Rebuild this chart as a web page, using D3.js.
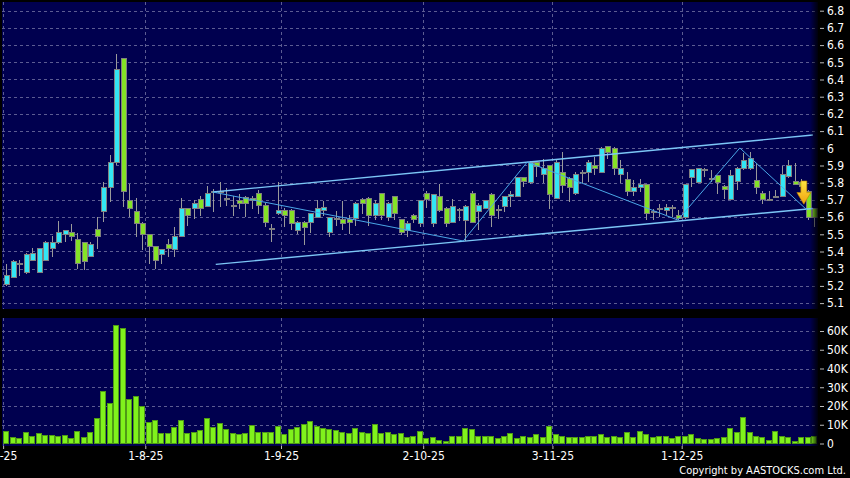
<!DOCTYPE html>
<meta charset="utf-8">
<style>
body {
    margin: 0;
    background: #000;
}
svg {
    display: block;
}
text {
    fill: #fff;
    font-family: 'DejaVu Sans Condensed', 'DejaVu Sans', sans-serif;
    font-size: 11px;
}
.grid {
    stroke: #5c5c92;
    stroke-width: 1px;
    stroke-dasharray: 3,3;
    shape-rendering: crispEdges;
}
.wick {
    stroke: #9a9a9a;
    stroke-width: 1px;
    shape-rendering: crispEdges;
}
.body {
    stroke: #808080;
    stroke-width: 1px;
    shape-rendering: crispEdges;
}
.vol {
    fill: #80f21c;
    stroke: #4f9a16;
    stroke-width: 1px;
    shape-rendering: crispEdges;
}
.channel {
    fill: none;
    stroke: #7cc6f6;
    stroke-width: 1.4px;
}
.zigzag {
    fill: none;
    stroke: #4aa6e6;
    stroke-width: 1px;
}
.axis path {
    display: none;
}
.axis line {
    stroke: #bbb;
}
</style>
<svg width="850" height="478"></svg>

<script src="https://unpkg.com/d3@7/dist/d3.min.js"></script>
<script>
// daily candles, 2-7-25 .. 31-12-25
const open = [
    5.21, 5.25, 5.33, 5.28, 5.35, 5.28, 5.35, 5.42, 5.455, 5.50,
    5.51, 5.47, 5.45, 5.37, 5.53, 5.635, 5.775, 5.915, 6.52, 5.695,
    5.635, 5.56, 5.50, 5.43, 5.385, 5.44, 5.41, 5.49, 5.65, 5.65,
    5.70, 5.66, 5.745, 5.745, 5.71, 5.67, 5.695, 5.715, 5.71, 5.74,
    5.67, 5.535, 5.62, 5.64, 5.64, 5.525, 5.57, 5.57, 5.60, 5.64,
    5.51, 5.59, 5.585, 5.585, 5.59, 5.705, 5.71, 5.61, 5.735, 5.60,
    5.72, 5.585, 5.52, 5.61, 5.56, 5.74, 5.56, 5.72, 5.65, 5.57,
    5.645, 5.58, 5.74, 5.635, 5.65, 5.73, 5.645, 5.66, 5.72, 5.72,
    5.83, 5.80, 5.915, 5.845, 5.90, 5.71, 5.86, 5.825, 5.735, 5.855,
    5.86, 5.90, 5.86, 6.01, 6.00, 5.85, 5.82, 5.75, 5.775, 5.79,
    5.635, 5.65, 5.64, 5.655, 5.61, 5.60, 5.83, 5.80, 5.875, 5.825,
    5.84, 5.78, 5.705, 5.805, 5.88, 5.88, 5.81, 5.74, 5.705, 5.72,
    5.72, 5.835, 5.805, 5.80, 5.75, 5.65
];
const high = [
    5.33, 5.35, 5.35, 5.39, 5.42, 5.42, 5.46, 5.49, 5.58, 5.525,
    5.56, 5.51, 5.455, 5.455, 5.60, 5.805, 5.96, 6.55, 6.52, 5.79,
    5.71, 5.57, 5.50, 5.43, 5.415, 5.47, 5.545, 5.71, 5.655, 5.70,
    5.72, 5.78, 5.765, 5.805, 5.77, 5.72, 5.735, 5.72, 5.72, 5.76,
    5.68, 5.56, 5.805, 5.655, 5.65, 5.575, 5.58, 5.625, 5.70, 5.695,
    5.60, 5.635, 5.695, 5.61, 5.685, 5.71, 5.715, 5.70, 5.74, 5.69,
    5.725, 5.59, 5.575, 5.62, 5.70, 5.75, 5.735, 5.79, 5.66, 5.705,
    5.655, 5.67, 5.75, 5.68, 5.70, 5.74, 5.67, 5.725, 5.75, 5.835,
    5.835, 5.925, 5.92, 5.94, 5.905, 5.93, 5.98, 5.835, 5.865, 5.875,
    5.93, 5.95, 6.005, 6.015, 6.005, 5.93, 5.865, 5.815, 5.82, 5.795,
    5.645, 5.675, 5.675, 5.67, 5.64, 5.795, 5.88, 5.885, 5.885, 5.875,
    5.845, 5.785, 5.875, 5.89, 5.97, 5.98, 5.915, 5.75, 5.75, 5.76,
    5.895, 5.93, 5.915, 5.82, 5.76, 5.655
];
const low = [
    5.20, 5.245, 5.26, 5.27, 5.345, 5.275, 5.345, 5.37, 5.445, 5.455,
    5.46, 5.30, 5.29, 5.37, 5.415, 5.57, 5.69, 5.905, 5.66, 5.60,
    5.485, 5.41, 5.33, 5.30, 5.33, 5.37, 5.37, 5.49, 5.55, 5.59,
    5.605, 5.66, 5.63, 5.66, 5.665, 5.605, 5.645, 5.60, 5.645, 5.62,
    5.54, 5.455, 5.61, 5.545, 5.525, 5.50, 5.44, 5.51, 5.60, 5.605,
    5.485, 5.55, 5.525, 5.50, 5.55, 5.62, 5.55, 5.585, 5.585, 5.575,
    5.585, 5.495, 5.485, 5.565, 5.545, 5.655, 5.545, 5.63, 5.545, 5.565,
    5.58, 5.46, 5.565, 5.525, 5.645, 5.54, 5.59, 5.63, 5.66, 5.715,
    5.775, 5.795, 5.835, 5.80, 5.65, 5.705, 5.74, 5.69, 5.73, 5.80,
    5.805, 5.845, 5.855, 5.935, 5.845, 5.80, 5.72, 5.72, 5.745, 5.585,
    5.585, 5.60, 5.615, 5.60, 5.585, 5.59, 5.775, 5.80, 5.835, 5.805,
    5.735, 5.705, 5.705, 5.76, 5.875, 5.875, 5.735, 5.675, 5.70, 5.715,
    5.72, 5.83, 5.79, 5.765, 5.585, 5.54
];
const close = [
    5.26, 5.34, 5.33, 5.385, 5.39, 5.415, 5.455, 5.455, 5.51, 5.52,
    5.485, 5.33, 5.34, 5.44, 5.485, 5.775, 5.915, 6.46, 5.75, 5.65,
    5.56, 5.50, 5.43, 5.35, 5.41, 5.415, 5.49, 5.65, 5.61, 5.68,
    5.65, 5.74, 5.75, 5.75, 5.71, 5.67, 5.68, 5.68, 5.695, 5.665,
    5.57, 5.535, 5.64, 5.61, 5.56, 5.57, 5.54, 5.62, 5.65, 5.655,
    5.60, 5.59, 5.56, 5.57, 5.68, 5.68, 5.61, 5.68, 5.61, 5.68,
    5.62, 5.51, 5.56, 5.585, 5.695, 5.70, 5.73, 5.64, 5.56, 5.66,
    5.645, 5.66, 5.57, 5.67, 5.695, 5.61, 5.645, 5.72, 5.73, 5.83,
    5.805, 5.915, 5.895, 5.885, 5.73, 5.915, 5.785, 5.775, 5.85, 5.86,
    5.915, 5.88, 6.00, 5.975, 5.88, 5.88, 5.75, 5.775, 5.79, 5.62,
    5.63, 5.65, 5.655, 5.655, 5.59, 5.79, 5.875, 5.88, 5.875, 5.825,
    5.80, 5.76, 5.84, 5.88, 5.93, 5.94, 5.77, 5.705, 5.705, 5.72,
    5.845, 5.90, 5.79, 5.78, 5.595, 5.60
];
// volume in shares
const volume = [
    6500, 3100, 2600, 6000, 3800, 5100, 4200, 4200, 3500, 4400,
    2900, 6500, 3100, 6100, 13200, 27600, 21600, 63200, 61200, 23700,
    25300, 19800, 11300, 12400, 5600, 5600, 8400, 12400, 5400, 5800,
    7000, 13600, 8800, 10800, 7300, 5100, 4600, 5100, 9500, 5800,
    6000, 6000, 9300, 4600, 7500, 8600, 9900, 12000, 9300, 7800,
    7300, 6700, 6000, 5300, 7800, 6100, 5100, 10000, 5100, 6100,
    4600, 5400, 3100, 4000, 6500, 2500, 3000, 1500, 1200, 3500,
    4000, 8000, 7500, 4000, 4000, 4000, 2500, 3500, 5500, 2500,
    4000, 3000, 5000, 3000, 9000, 5000, 3500, 3000, 3000, 3000,
    4000, 3500, 5000, 3000, 4000, 3000, 6000, 3000, 6500, 5000,
    3000, 4000, 3500, 2500, 3500, 3500, 5000, 2500, 2000, 2000,
    2500, 3000, 8000, 6000, 14000, 6000, 4000, 3000, 1500, 6500,
    4000, 3000, 1000, 3000, 3000, 3500
];

const tickIdx = [0, 22, 43, 65, 85, 105];
const tickLabels = ['2-7-25', '1-8-25', '1-9-25', '2-10-25', '3-11-25', '1-12-25'];
const priceTicks = [5.1, 5.2, 5.3, 5.4, 5.5, 5.6, 5.7, 5.8, 5.9, 6.0, 6.1, 6.2, 6.3, 6.4, 6.5, 6.6, 6.7, 6.8];
const volTicks = [0, 10000, 20000, 30000, 40000, 50000, 60000];

// trend lines as [candle index, price]
const channelUpper = [[32, 5.746], [124.8, 6.077]];
const channelLower = [[32.4, 5.325], [124.8, 5.65]];
const zigzag = [[31.9, 5.746], [70.7, 5.461], [80.6, 5.92], [103.9, 5.583], [113.5, 6.002], [123.9, 5.641]];
const signal = {idx: 123.4, top: 5.81, tip: 5.675};

let svg = d3.select('svg');

let x = d3.scaleLinear().domain([0, open.length]).range([3.12, 817.4]);
let y = d3.scaleLinear().domain([5.1, 6.8]).range([303.1, 10.7]);
let yv = d3.scaleLinear().domain([0, 60000]).range([443.5, 331]);

let defs = svg.append('defs');
let shade = defs.append('linearGradient').attr('id', 'shade');
shade.append('stop').attr('offset', 0).attr('stop-color', '#000').attr('stop-opacity', 0);
shade.append('stop').attr('offset', 1).attr('stop-color', '#000').attr('stop-opacity', 0.85);
let gold = defs.append('linearGradient').attr('id', 'gold')
    .attr('x1', 0).attr('y1', 0).attr('x2', 0).attr('y2', 1);
gold.append('stop').attr('offset', 0).attr('stop-color', '#ffe640');
gold.append('stop').attr('offset', 1).attr('stop-color', '#f0a010');

// panels
let panels = [
    {top: 2, bottom: 309, ticks: priceTicks, scale: y},
    {top: 318, bottom: 446, ticks: volTicks, scale: yv}
];
panels.forEach(p => {
    svg.append('rect')
        .attr('x', 2).attr('y', p.top)
        .attr('width', 816).attr('height', p.bottom - p.top)
        .attr('fill', '#00004f');
    svg.append('g').selectAll('line')
        .data(p.ticks.filter(t => t > 0))
        .enter().append('line')
            .attr('class', 'grid')
            .attr('x1', 2).attr('x2', 818)
            .attr('y1', d => Math.round(p.scale(d)) + 0.5)
            .attr('y2', d => Math.round(p.scale(d)) + 0.5);
    svg.append('g').selectAll('line')
        .data(tickIdx)
        .enter().append('line')
            .attr('class', 'grid')
            .attr('x1', d => Math.round(x(d)) + 0.5)
            .attr('x2', d => Math.round(x(d)) + 0.5)
            .attr('y1', p.top).attr('y2', p.bottom);
});

// candles
let candles = svg.append('g').selectAll('g')
    .data(open.map((o, i) => ({i: i, o: o, h: high[i], l: low[i], c: close[i]})))
    .enter().append('g');
candles.append('line')
    .attr('class', 'wick')
    .attr('x1', d => Math.round(x(d.i + 0.5)) + 0.5)
    .attr('x2', d => Math.round(x(d.i + 0.5)) + 0.5)
    .attr('y1', d => y(d.h))
    .attr('y2', d => y(d.l));
candles.append('rect')
    .attr('class', 'body')
    .attr('x', d => Math.round(x(d.i + 0.5)) - 2)
    .attr('width', 5)
    .attr('y', d => y(Math.max(d.o, d.c)))
    .attr('height', d => Math.max(1, Math.abs(y(d.o) - y(d.c))))
    .attr('fill', d => d.c >= d.o ? '#33e6f4' : '#84e226');

// volume bars
svg.append('g').selectAll('rect')
    .data(volume)
    .enter().append('rect')
        .attr('class', 'vol')
        .attr('x', (d, i) => Math.round(x(i + 0.5)) - 2.5)
        .attr('width', 5)
        .attr('y', d => yv(d))
        .attr('height', d => yv(0) - yv(d));

// trend lines
let line = d3.line().x(d => x(d[0] + 0.5)).y(d => y(d[1]));
svg.append('path').datum(channelUpper).attr('class', 'channel').attr('d', line);
svg.append('path').datum(channelLower).attr('class', 'channel').attr('d', line);
svg.append('path').datum(zigzag).attr('class', 'zigzag').attr('d', line);

// sell signal arrow
let ax = x(signal.idx + 0.5), at = y(signal.top), ab = y(signal.tip);
let neck = at + (ab - at) * 0.5;
svg.append('path')
    .attr('d', `M${ax - 3},${at} L${ax + 3},${at} L${ax + 3},${neck} L${ax + 7},${neck} L${ax},${ab} L${ax - 7},${neck} L${ax - 3},${neck} Z`)
    .attr('fill', 'url(#gold)')
    .attr('stroke', '#c08000')
    .attr('stroke-width', 0.6);

// right edge shadow
panels.forEach(p => {
    svg.append('rect')
        .attr('x', 810).attr('y', p.top)
        .attr('width', 8).attr('height', p.bottom - p.top)
        .attr('fill', 'url(#shade)');
});

// axes
svg.append('g').attr('class', 'axis')
    .attr('transform', 'translate(820,0)')
    .call(d3.axisRight(y).tickValues(priceTicks).tickSize(4).tickPadding(3)
        .tickFormat(d3.format('~g')));
svg.append('g').attr('class', 'axis')
    .attr('transform', 'translate(820,0)')
    .call(d3.axisRight(yv).tickValues(volTicks).tickSize(4).tickPadding(3)
        .tickFormat(d => d === 0 ? '0' : d / 1000 + 'K'));
let xAxis = svg.append('g').attr('class', 'axis')
    .attr('transform', 'translate(0,446)')
    .call(d3.axisBottom(x).tickValues(tickIdx).tickSize(3).tickPadding(2)
        .tickFormat((d, i) => tickLabels[i]));
// the first date sits on the left edge and is cut like the original
xAxis.selectAll('text').filter((d, i) => i === 0).attr('dx', -4);

svg.selectAll('.axis text').style('fill', '#fff')
    .style('font-family', "'DejaVu Sans Condensed', 'DejaVu Sans', sans-serif")
    .style('font-size', '12px');

svg.append('text')
    .attr('x', 846).attr('y', 474)
    .attr('text-anchor', 'end')
    .style('font-size', '11px')
    .text('Copyright by AASTOCKS.com Ltd.');
</script>
